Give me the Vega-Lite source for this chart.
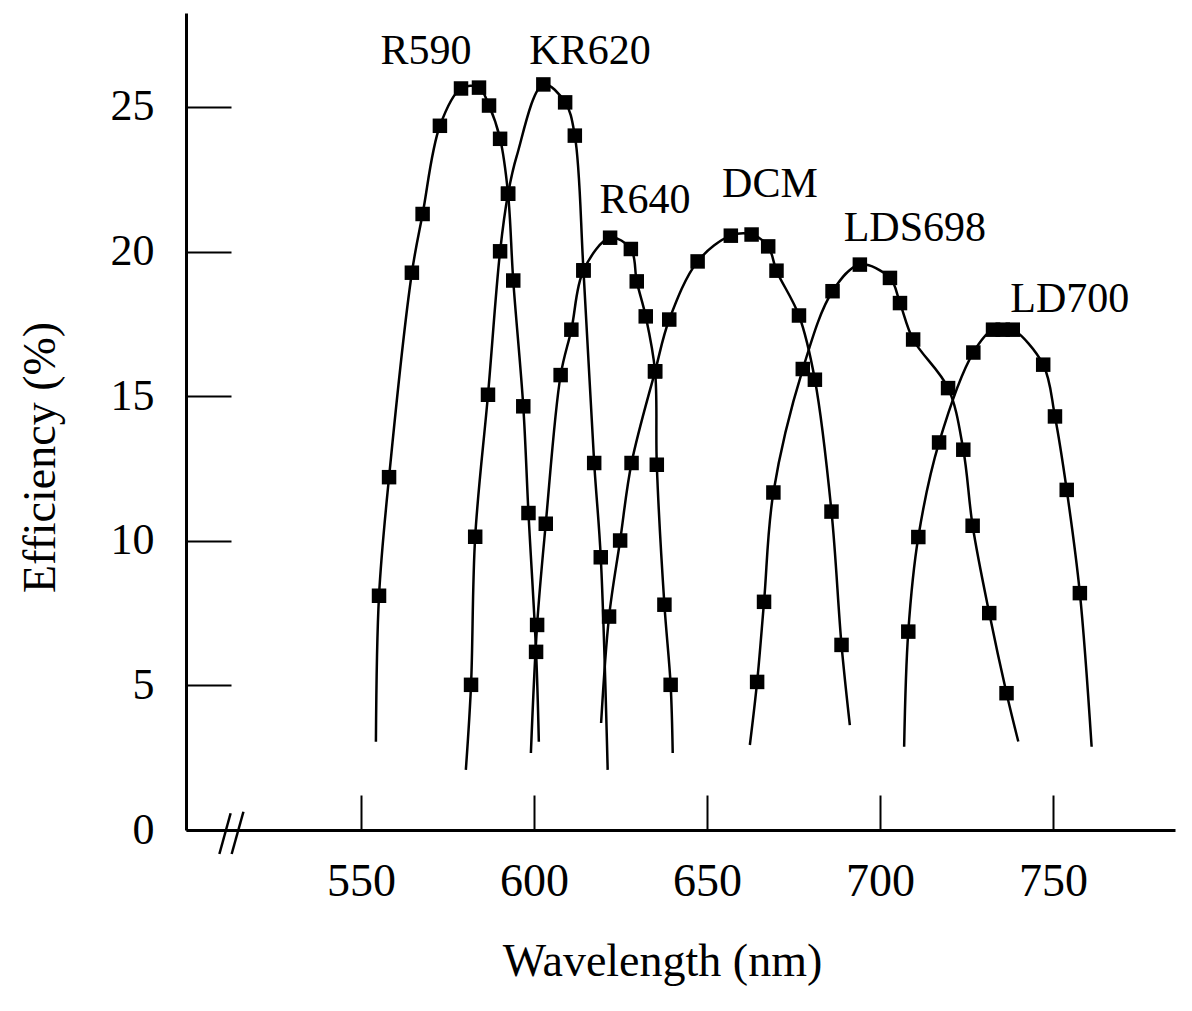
{
  "$schema": "https://vega.github.io/schema/vega-lite/v6.json",
  "autosize": "none",
  "width": 989,
  "height": 817,
  "padding": {"left": 186, "top": 13, "right": 17, "bottom": 181},
  "background": "white",
  "config": {"view": {"stroke": null}, "font": "Liberation Serif"},
  "datasets": {
    "curves": [
      {"s":"R590","nm":554.3,"eff":3.05,"m":0},{"s":"R590","nm":555.2,"eff":8.1,"m":1},{"s":"R590","nm":558.1,"eff":12.2,"m":1},{"s":"R590","nm":564.7,"eff":19.27,"m":1},{"s":"R590","nm":567.8,"eff":21.3,"m":1},{"s":"R590","nm":572.8,"eff":24.35,"m":1},{"s":"R590","nm":578.9,"eff":25.64,"m":1},{"s":"R590","nm":584.1,"eff":25.67,"m":1},{"s":"R590","nm":587.0,"eff":25.05,"m":1},{"s":"R590","nm":590.2,"eff":23.9,"m":1},{"s":"R590","nm":592.5,"eff":22.0,"m":1},{"s":"R590","nm":594.0,"eff":19.0,"m":1},{"s":"R590","nm":596.9,"eff":14.65,"m":1},{"s":"R590","nm":598.4,"eff":10.96,"m":1},{"s":"R590","nm":600.6,"eff":6.16,"m":1},{"s":"R590","nm":601.4,"eff":3.05,"m":0},
      {"s":"KR620","nm":580.3,"eff":2.08,"m":0},{"s":"KR620","nm":581.8,"eff":5.02,"m":1},{"s":"KR620","nm":583.0,"eff":10.14,"m":1},{"s":"KR620","nm":586.7,"eff":15.05,"m":1},{"s":"KR620","nm":590.2,"eff":20.01,"m":1},{"s":"KR620","nm":592.5,"eff":22.0,"m":1},{"s":"KR620","nm":595.0,"eff":23.3,"m":0},{"s":"KR620","nm":602.7,"eff":25.78,"m":1},{"s":"KR620","nm":609.0,"eff":25.16,"m":1},{"s":"KR620","nm":611.8,"eff":24.01,"m":1},{"s":"KR620","nm":614.3,"eff":19.35,"m":1},{"s":"KR620","nm":617.4,"eff":12.69,"m":1},{"s":"KR620","nm":619.3,"eff":9.43,"m":1},{"s":"KR620","nm":621.3,"eff":2.08,"m":0},
      {"s":"R640","nm":599.1,"eff":2.66,"m":0},{"s":"R640","nm":600.9,"eff":7.09,"m":1},{"s":"R640","nm":603.4,"eff":10.59,"m":1},{"s":"R640","nm":607.7,"eff":15.73,"m":1},{"s":"R640","nm":610.8,"eff":17.3,"m":1},{"s":"R640","nm":614.3,"eff":19.35,"m":1},{"s":"R640","nm":622.0,"eff":20.48,"m":1},{"s":"R640","nm":628.0,"eff":20.09,"m":1},{"s":"R640","nm":629.7,"eff":18.97,"m":1},{"s":"R640","nm":632.3,"eff":17.76,"m":1},{"s":"R640","nm":635.0,"eff":15.86,"m":1},{"s":"R640","nm":635.5,"eff":12.63,"m":1},{"s":"R640","nm":637.7,"eff":7.79,"m":1},{"s":"R640","nm":639.5,"eff":5.02,"m":1},{"s":"R640","nm":640.1,"eff":2.66,"m":0},
      {"s":"DCM","nm":619.4,"eff":3.7,"m":0},{"s":"DCM","nm":621.7,"eff":7.38,"m":1},{"s":"DCM","nm":624.9,"eff":10.01,"m":1},{"s":"DCM","nm":628.2,"eff":12.69,"m":1},{"s":"DCM","nm":635.0,"eff":15.86,"m":1},{"s":"DCM","nm":639.1,"eff":17.65,"m":1},{"s":"DCM","nm":647.3,"eff":19.66,"m":1},{"s":"DCM","nm":656.9,"eff":20.55,"m":1},{"s":"DCM","nm":662.9,"eff":20.59,"m":1},{"s":"DCM","nm":667.7,"eff":20.18,"m":1},{"s":"DCM","nm":670.1,"eff":19.34,"m":1},{"s":"DCM","nm":676.6,"eff":17.79,"m":1},{"s":"DCM","nm":681.2,"eff":15.57,"m":1},{"s":"DCM","nm":686.0,"eff":11.01,"m":1},{"s":"DCM","nm":688.9,"eff":6.4,"m":1},{"s":"DCM","nm":691.3,"eff":3.63,"m":0},
      {"s":"LDS698","nm":662.4,"eff":2.94,"m":0},{"s":"LDS698","nm":664.5,"eff":5.12,"m":1},{"s":"LDS698","nm":666.5,"eff":7.89,"m":1},{"s":"LDS698","nm":669.2,"eff":11.67,"m":1},{"s":"LDS698","nm":677.7,"eff":15.94,"m":1},{"s":"LDS698","nm":686.3,"eff":18.63,"m":1},{"s":"LDS698","nm":694.2,"eff":19.55,"m":1},{"s":"LDS698","nm":702.9,"eff":19.09,"m":1},{"s":"LDS698","nm":705.8,"eff":18.22,"m":1},{"s":"LDS698","nm":709.6,"eff":16.96,"m":1},{"s":"LDS698","nm":719.7,"eff":15.28,"m":1},{"s":"LDS698","nm":724.1,"eff":13.15,"m":1},{"s":"LDS698","nm":726.8,"eff":10.52,"m":1},{"s":"LDS698","nm":731.6,"eff":7.5,"m":1},{"s":"LDS698","nm":736.6,"eff":4.73,"m":1},{"s":"LDS698","nm":740.0,"eff":3.06,"m":0},
      {"s":"LD700","nm":707.0,"eff":2.88,"m":0},{"s":"LD700","nm":708.2,"eff":6.86,"m":1},{"s":"LD700","nm":711.1,"eff":10.13,"m":1},{"s":"LD700","nm":717.1,"eff":13.4,"m":1},{"s":"LD700","nm":727.0,"eff":16.51,"m":1},{"s":"LD700","nm":732.7,"eff":17.3,"m":1},{"s":"LD700","nm":735.5,"eff":17.3,"m":1},{"s":"LD700","nm":738.4,"eff":17.3,"m":1},{"s":"LD700","nm":747.2,"eff":16.09,"m":1},{"s":"LD700","nm":750.6,"eff":14.3,"m":1},{"s":"LD700","nm":754.0,"eff":11.76,"m":1},{"s":"LD700","nm":757.8,"eff":8.19,"m":1},{"s":"LD700","nm":761.2,"eff":2.88,"m":0}
    ],
    "labels": [
      {"label":"R590","nm":568.8,"eff":26.47},
      {"label":"KR620","nm":616.2,"eff":26.47},
      {"label":"R640","nm":632.1,"eff":21.35},
      {"label":"DCM","nm":668.2,"eff":21.9},
      {"label":"LDS698","nm":710.1,"eff":20.35},
      {"label":"LD700","nm":754.9,"eff":17.9}
    ],
    "breaks": [
      {"nm":512.3,"eff":0.58,"nm2":509.05,"eff2":-0.83},
      {"nm":516.0,"eff":0.63,"nm2":512.6,"eff2":-0.83}
    ]
  },
  "encoding": {
    "x": {
      "field": "nm", "type": "quantitative",
      "scale": {"domain": [499.4, 785.3], "nice": false, "zero": false},
      "axis": {
        "title": "Wavelength (nm)", "values": [550, 600, 650, 700, 750],
        "grid": false, "tickSize": -35, "tickWidth": 2, "tickColor": "black",
        "domainColor": "black", "domainWidth": 3,
        "labelFont": "Liberation Serif", "labelFontSize": 46, "labelColor": "black", "labelPadding": 64,
        "labelFlush": false, "labelOverlap": false,
        "titleFont": "Liberation Serif", "titleFontSize": 46, "titleFontWeight": "normal", "titleColor": "black",
        "titlePadding": 35, "titleX": 476
      }
    },
    "y": {
      "field": "eff", "type": "quantitative",
      "scale": {"domain": [0, 28.25], "nice": false, "zero": false},
      "axis": {
        "title": "Efficiency (%)", "values": [0, 5, 10, 15, 20, 25],
        "grid": false, "tickSize": -45, "tickWidth": 2, "tickColor": "black",
        "domainColor": "black", "domainWidth": 3,
        "labelFont": "Liberation Serif", "labelFontSize": 44, "labelColor": "black", "labelPadding": 77,
        "labelFlush": false, "labelOverlap": false,
        "titleFont": "Liberation Serif", "titleFontSize": 46, "titleFontWeight": "normal", "titleColor": "black",
        "titlePadding": 46, "titleY": 444
      }
    }
  },
  "layer": [
    {
      "data": {"name": "curves"},
      "mark": {"type": "line", "interpolate": "catmull-rom", "color": "black", "strokeWidth": 2.5},
      "encoding": {"detail": {"field": "s"}}
    },
    {
      "data": {"name": "curves"},
      "transform": [{"filter": "datum.m == 1"}],
      "mark": {"type": "square", "size": 210, "filled": true, "color": "black", "opacity": 1}
    },
    {
      "data": {"name": "labels"},
      "mark": {"type": "text", "font": "Liberation Serif", "fontSize": 42, "color": "black", "align": "center", "baseline": "alphabetic"},
      "encoding": {"text": {"field": "label"}}
    },
    {
      "data": {"name": "breaks"},
      "mark": {"type": "rule", "color": "black", "strokeWidth": 2.5},
      "encoding": {"x2": {"field": "nm2"}, "y2": {"field": "eff2"}}
    }
  ]
}
